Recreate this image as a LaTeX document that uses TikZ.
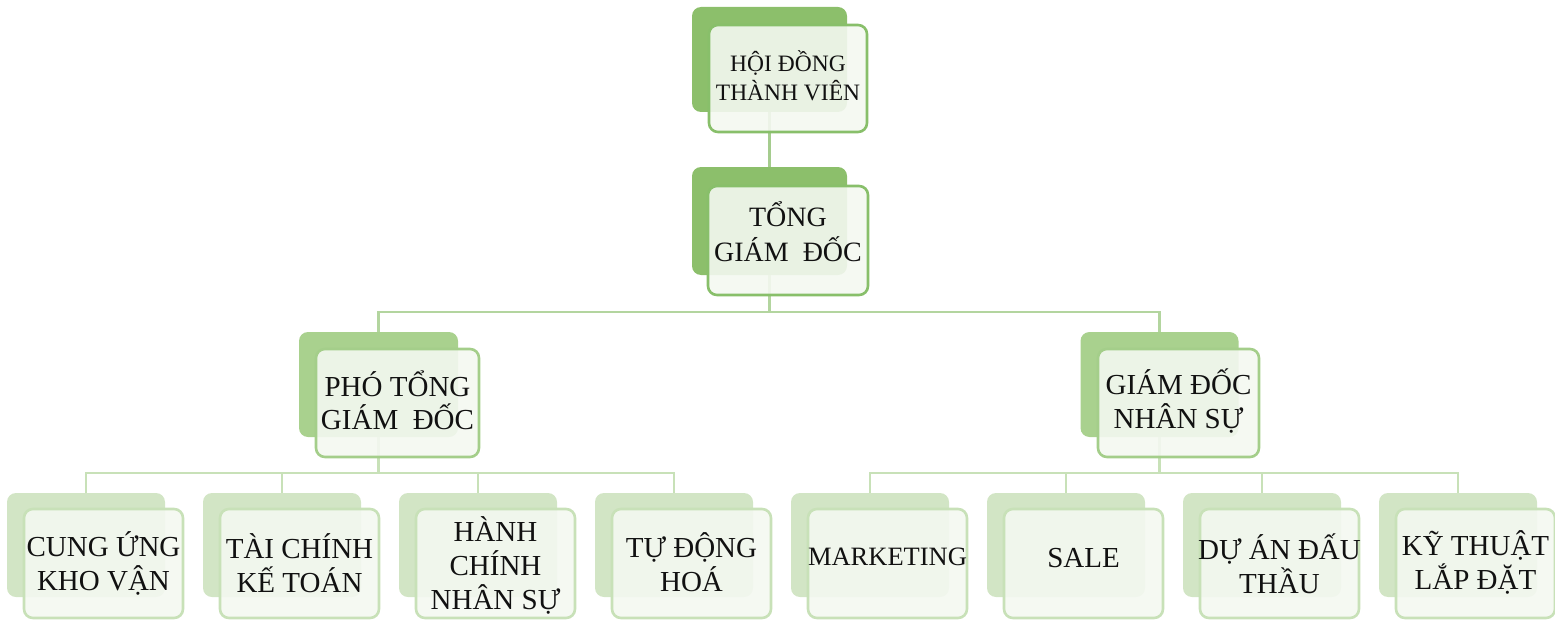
\documentclass[tikz,border=0pt]{standalone}
\usepackage{fontspec}
\setmainfont{Liberation Serif}
\definecolor{gA}{HTML}{8CBF6B}
\definecolor{gC}{HTML}{A9D18E}
\definecolor{gD}{HTML}{D2E5C5}
\definecolor{frA}{HTML}{88BF6A}
\definecolor{frC}{HTML}{A4CE8A}
\definecolor{frD}{HTML}{C8E1B8}
\definecolor{frfill}{HTML}{F4F8F1}
\definecolor{lnA}{HTML}{A5CC8E}
\definecolor{lnB}{HTML}{B3D59F}
\definecolor{lnD}{HTML}{C8E1B8}
\definecolor{ink}{HTML}{111111}
\newcommand\BackFour[2]{\node[bk,fill=gD,minimum width=158pt,minimum height=104pt] (#1) at (#2+79,545) {};}
\newcommand\FrontFour[5]{\node[fr,draw=frD,minimum width=159pt,minimum height=109pt] (#1f) at (#2+96.5,563.5) {};
  \node[txt,font=\fontsize{#4}{34}\selectfont] (#1t) at ([yshift=#5]#1f.center) {#3};}
\begin{document}
\begin{tikzpicture}[x=1pt,y=-1pt,
  bk/.style={rounded corners=9pt,inner sep=0pt,outer sep=0pt},
  fr/.style={line width=2.6pt,rounded corners=9pt,fill=frfill,fill opacity=0.9,text opacity=1,inner sep=0pt,outer sep=0pt},
  txt/.style={align=center,text=ink,inner sep=0pt},
  cn/.style={line width=2.6pt}]
\useasboundingbox (0,0) rectangle (1555,623);
% back boxes
\node[bk,fill=gA,minimum width=155pt,minimum height=105pt] (b1) at (769.5,59.5) {};
\node[bk,fill=gA,minimum width=155pt,minimum height=108pt] (b2) at (769.5,221) {};
\node[bk,fill=gC,minimum width=159pt,minimum height=105pt] (b3l) at (378.5,384.5) {};
\node[bk,fill=gC,minimum width=158pt,minimum height=105pt] (b3r) at (1159.5,384.5) {};
\BackFour{c1}{7}
\BackFour{c2}{203}
\BackFour{c3}{399}
\BackFour{c4}{595}
\BackFour{c5}{791}
\BackFour{c6}{987}
\BackFour{c7}{1183}
\BackFour{c8}{1379}
% connectors
\coordinate (h2) at (0,312);
\coordinate (h3) at (0,473);
\draw[cn,lnA] (b1.south) -- (b2.north);
\coordinate (j2) at (b2.south |- h2);
\draw[cn,lnB] (b2.south) -- (j2) -| (b3l.north);
\draw[cn,lnB] (j2) -| (b3r.north);
\coordinate (j3l) at (b3l.south |- h3);
\coordinate (j3r) at (b3r.south |- h3);
\draw[cn,lnD] (b3l.south) -- (j3l);
\draw[cn,lnD] (b3r.south) -- (j3r);
\draw[cn,lnD] (c1.north) |- (j3l) -| (c4.north);
\draw[cn,lnD] (j3l) -| (c2.north);
\draw[cn,lnD] (j3l) -| (c3.north);
\draw[cn,lnD] (c5.north) |- (j3r) -| (c8.north);
\draw[cn,lnD] (j3r) -| (c6.north);
\draw[cn,lnD] (j3r) -| (c7.north);
% front boxes
\node[fr,draw=frA,minimum width=158pt,minimum height=107pt] (f1) at (788,78.5) {};
\node[txt,font=\fontsize{23.5}{29}\selectfont] (t1) at ([yshift=2.5pt]f1.center) {HỘI ĐỒNG\\THÀNH VIÊN};
\node[fr,draw=frA,minimum width=160pt,minimum height=109pt] (f2) at (788,240.5) {};
\node[txt,font=\fontsize{28}{35}\selectfont] (t2) at ([yshift=9pt]f2.center) {TỔNG\\GIÁM \ ĐỐC};
\node[fr,draw=frC,minimum width=163pt,minimum height=108pt] (f3l) at (397.5,403) {};
\node[txt,font=\fontsize{29}{33}\selectfont] (t3l) at ([yshift=3pt]f3l.center) {PHÓ TỔNG\\GIÁM \ ĐỐC};
\node[fr,draw=frC,minimum width=161pt,minimum height=108pt] (f3r) at (1178.5,403) {};
\node[txt,font=\fontsize{29}{34}\selectfont] (t3r) at ([yshift=2pt]f3r.center) {GIÁM ĐỐC\\NHÂN SỰ};
\FrontFour{c1}{7}{CUNG ỨNG\\KHO VẬN}{29}{0pt}
\FrontFour{c2}{203}{TÀI CHÍNH\\KẾ TOÁN}{29}{0pt}
\FrontFour{c3}{399}{HÀNH\\CHÍNH\\NHÂN SỰ}{29}{-2pt}
\FrontFour{c4}{595}{TỰ ĐỘNG\\HOÁ}{29}{1pt}
\FrontFour{c5}{791}{MARKETING}{26.5}{7pt}
\FrontFour{c6}{987}{SALE}{29}{5pt}
\FrontFour{c7}{1183}{DỰ ÁN ĐẤU\\THẦU}{29}{0pt}
\FrontFour{c8}{1379}{KỸ THUẬT\\LẮP ĐẶT}{29}{1pt}
\end{tikzpicture}
\end{document}
